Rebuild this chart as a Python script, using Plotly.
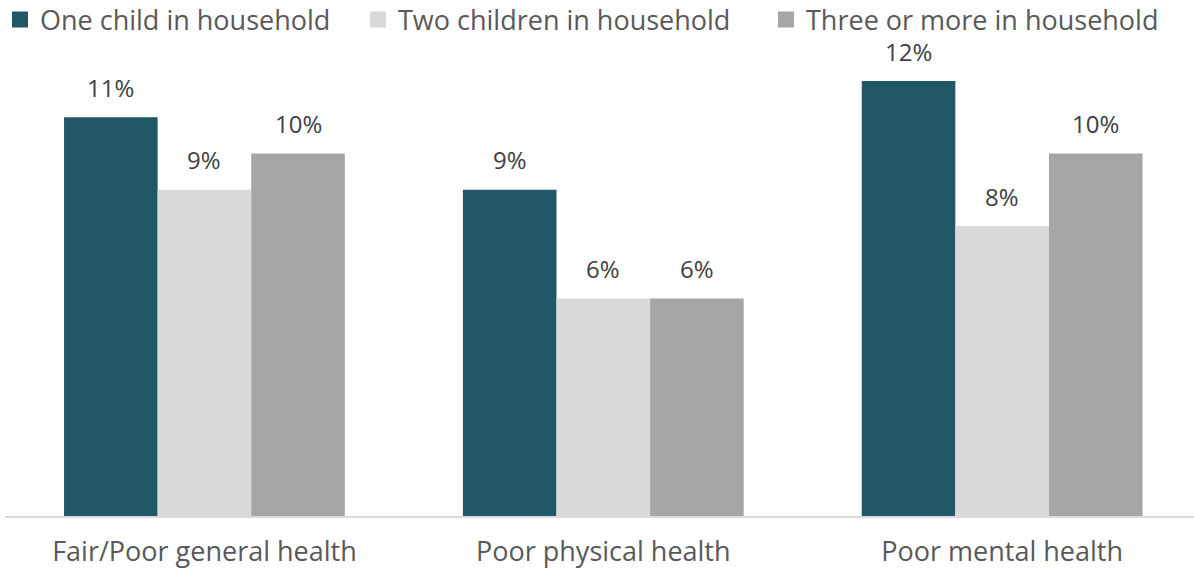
import plotly.graph_objects as go

categories = ["Fair/Poor general health", "Poor physical health", "Poor mental health"]
series_names = ["One child in household", "Two children in household", "Three or more in household"]
one_child = [11, 9, 12]
two_children = [9, 6, 8]
three_plus = [10, 6, 10]
series_values = [one_child, two_children, three_plus]
colors = ["#215867", "#D9D9D9", "#A6A6A6"]

FONT = "Open Sans"
bargap = 0.296
n_series = len(series_values)
bar_w = (1 - bargap) / n_series

fig = go.Figure()
legend_ids = ["legend", "legend2", "legend3"]
for j, (name, vals, col) in enumerate(zip(series_names, series_values, colors)):
    fig.add_trace(go.Bar(
        x=categories, y=vals, name=name, marker_color=col,
        marker_line_width=0, showlegend=False,
    ))
    # legend entry with a square swatch
    fig.add_trace(go.Scatter(
        x=[None], y=[None], mode="markers", name=name,
        marker=dict(symbol="square", size=17, color=col),
        legend=legend_ids[j], showlegend=True,
    ))

# value labels above each bar
annotations = []
for j, vals in enumerate(series_values):
    for i, v in enumerate(vals):
        annotations.append(dict(
            x=i + (j - (n_series - 1) / 2) * bar_w, y=v, xref="x", yref="y",
            text=f"{v}%", showarrow=False, yanchor="middle", yshift=30,
            borderpad=0,
            font=dict(family=FONT, size=24, color="#404040"),
        ))

legend_x = [-5 / 1194, 358 / 1194, 766 / 1194]
legend_common = dict(
    orientation="h", yanchor="middle", y=0.965, yref="container", xref="container",
    font=dict(family=FONT, size=27, color="#595959"),
    bgcolor="rgba(0,0,0,0)", itemsizing="trace",
)
fig.update_layout(
    barmode="group", bargap=bargap, bargroupgap=0,
    width=1194, height=572,
    margin=dict(l=5, r=0, t=60, b=56),
    plot_bgcolor="white", paper_bgcolor="white",
    annotations=annotations,
    legend=dict(x=legend_x[0], **legend_common),
    legend2=dict(x=legend_x[1], **legend_common),
    legend3=dict(x=legend_x[2], **legend_common),
    xaxis=dict(
        range=[-0.5, 2.481], showline=True, linecolor="#D9D9D9", linewidth=2,
        ticks="", tickfont=dict(family=FONT, size=27, color="#595959"),
        ticklabelstandoff=11, automargin=False,
    ),
    yaxis=dict(range=[0, 456 / 36.25], visible=False, showgrid=False,
               automargin=False),
)

fig.write_html("out.html")
